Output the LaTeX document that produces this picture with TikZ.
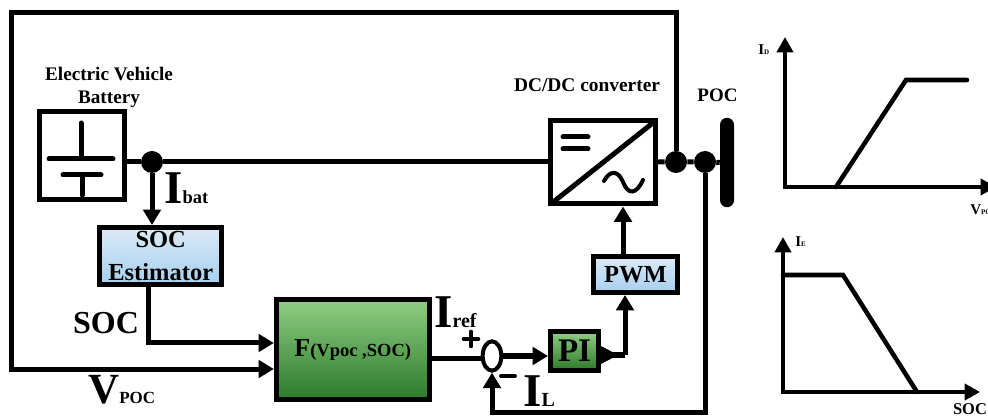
\documentclass[tikz,border=0pt]{standalone}
\usepackage{fontspec}
\setmainfont{Liberation Serif}
\usetikzlibrary{arrows.meta,calc,shapes.geometric}
\newcommand{\fpx}[1]{\fontsize{\dimexpr #1pt*3/4\relax}{\dimexpr #1pt*9/10\relax}\selectfont}
\definecolor{bluetop}{HTML}{DCEAF6}
\definecolor{bluebot}{HTML}{A6CFEF}
\definecolor{gtop}{HTML}{8FCE82}
\definecolor{gmid}{HTML}{3FA636}
\definecolor{gbot}{HTML}{2D7A2A}
\tikzset{
  wire/.style={line width=3.75pt,line join=miter},
  arrowed/.style={-{Triangle[length=11.5pt,width=13pt]}},
  box/.style={draw,line width=3.75pt,inner sep=0pt,align=center,font=\bfseries},
  bluebox/.style={box,top color=bluetop,bottom color=bluebot},
  greenbox/.style={box,top color=gtop,middle color=gmid,bottom color=gbot},
  dot/.style={circle,fill,inner sep=0pt,minimum size=16.5pt},
  lab/.style={inner sep=0pt,font=\bfseries},
  bl/.style={lab,anchor=base west},
  sym/.style={line width=3.75pt,line cap=round},
  curve/.style={line width=3.4pt,line cap=round,line join=miter},
  axis/.style={line width=3pt,{Triangle[length=11.5pt,width=12pt]}-{Triangle[length=11.5pt,width=12pt]}},
}
\begin{document}
\begin{tikzpicture}[x=0.75pt,y=-0.75pt]
\useasboundingbox (0,0) rectangle (988,416);
\clip (0,0) rectangle (988,416);
% blocks
\node[box,minimum width=63.75pt,minimum height=66pt] (batt) at (81.5,156) {};
\node[box,minimum width=78.75pt,minimum height=62.25pt] (conv) at (602.5,162.5) {};
\node[bluebox,minimum width=91.5pt,minimum height=42.75pt,font=\bfseries\fpx{24.5}] (soc) at (160.75,256) {SOC\\[2pt]Estimator};
\node[greenbox,minimum width=114.5pt,minimum height=74.75pt] (F) at (352.75,349.5) {{\fpx{26}F}{\fpx{18.5}(Vpoc ,SOC)}};
\node[greenbox,minimum width=36pt,minimum height=29pt,font=\bfseries\fpx{33}] (PI) at (574.5,351) {PI};
\node[bluebox,minimum width=62.5pt,minimum height=27pt,font=\bfseries\fpx{24.5}] (PWM) at (635.5,274.5) {PWM};
\node[draw,ellipse,line width=3pt,minimum width=14pt,minimum height=22pt,inner sep=0pt] (sum) at (492,356) {};
\node[dot] (dotA) at (152,162) {};
\node[dot] (dotB) at (676,162) {};
\node[dot] (dotC) at (705,162) {};
\node[fill,rounded corners=5.2pt,minimum width=10.5pt,minimum height=67pt,inner sep=0pt] (bus) at (727,162.5) {};
% free corners
\coordinate (tl) at (11,13);
\coordinate (lo) at (11,369);
\coordinate (socin) at (148,343);
\coordinate (socout) at (148,286);
\coordinate (fbk) at (705,412);
\coordinate (piturn) at (625,355);
\coordinate (summin) at (492,412);
% connectors
\draw[wire] (batt.east |- dotA) -- (dotA);
\draw[wire] (dotA) -- (conv.west |- dotA);
\draw[wire] (conv.east |- dotB) -- (dotB) -- (dotC) -- (bus);
\draw[wire,arrowed] (dotB) |- (tl) -- (lo) -- (F.west |- lo);
\draw[wire,arrowed] (dotA) -- (soc.north -| dotA);
\draw[wire,arrowed] (socout) -- (socin) -- (F.west |- socin);
\draw[wire] (F.east |- 0,358) -- (sum.west |- 0,358);
\draw[line width=5pt,arrowed] (sum.east) -- (PI.west |- sum.east);
\draw[wire] (PI.east |- piturn) -- (piturn);
\draw[wire,arrowed] (piturn) -- (PWM.south -| piturn);
\draw[wire,arrowed] (PWM.north -| 623,0) -- (conv.south -| 623,0);
\draw[wire,arrowed] (dotC) -- (fbk) -- (summin) -- (sum.south);
\fill (PI.east |- 0,346) -- (PI.east |- 0,364) -- (618,355) -- cycle;
% battery symbol
\draw[sym] (81,123) -- (81,158);
\draw[sym] (49,159) -- (113,159);
\draw[sym] (63,175) -- (101,175);
\draw[sym] (82,175) -- (82,195);
% converter symbol
\draw[line width=3.75pt] (552,203) -- (654,122);
\draw[sym] (563,137) -- (588,137);
\draw[sym] (563,149) -- (588,149);
\draw[line width=3pt,line cap=round] (604,181) .. controls (610,170) and (618,170) .. (623,182) .. controls (628,195) and (636,195) .. (643,180);
% plus and minus
\draw[line width=3.5pt,line cap=round] (464,339) -- (478,339);
\draw[line width=3.5pt,line cap=round] (471,332) -- (471,346);
\draw[line width=3pt,line cap=round] (501,376) -- (515,376);
% labels
\node[lab,font=\bfseries\fpx{19.2},align=center] (evb) at (109,87) {Electric Vehicle\\Battery};
\node[lab,font=\bfseries\fpx{19.4}] (dcl) at (587,85) {DC/DC converter};
\node[lab,font=\bfseries\fpx{19}] (pocl) at (717.5,95) {POC};
\node[bl] (ibat) at (164,204) {{\fpx{47}I}{\fpx{18.5}bat}};
\node[lab,font=\bfseries\fpx{32}] (socl) at (106,323) {SOC};
\node[bl] (vpoc) at (88,403) {{\fpx{43}V}{\fpx{17}POC}};
\node[bl] (iref) at (434,328) {{\fpx{47}I}{\fpx{20}ref}};
\node[bl] (il) at (523,406) {{\fpx{47}I}{\fpx{20}L}};
% upper graph
\coordinate (oa) at (785,187);
\node[bl] (idl) at (758,55) {{\fpx{15}I}{\fpx{7}D}};
\node[bl] (vpl) at (970,215) {{\fpx{15}V}{\fpx{7}POC}};
\coordinate (ax1) at (785,37);
\coordinate (ax2) at (996,187);
\draw[axis] (ax1) -- (oa) -- (ax2);
\coordinate (c1) at (836,187);
\coordinate (c2) at (906,80);
\coordinate (c3) at (967,80);
\draw[curve] (c1) -- (c2) -- (c3);
% lower graph
\coordinate (ob) at (783,392);
\node[bl] (iel) at (795,247) {{\fpx{15}I}{\fpx{7}E}};
\node[lab,font=\bfseries\fpx{16.5}] (socx) at (970,409) {SOC};
\coordinate (bx1) at (783,237);
\coordinate (bx2) at (980,392);
\draw[axis] (bx1) -- (ob) -- (bx2);
\coordinate (d1) at (783,275);
\coordinate (d2) at (843,275);
\coordinate (d3) at (917,392);
\draw[curve] (d1) -- (d2) -- (d3);
\end{tikzpicture}
\end{document}
